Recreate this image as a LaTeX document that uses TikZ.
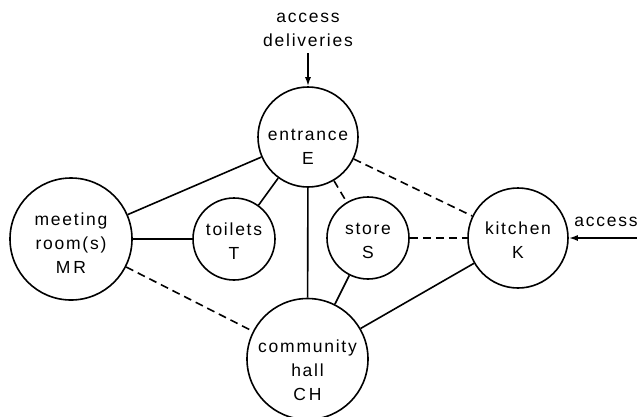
\documentclass[tikz,border=0pt]{standalone}
\usepackage{fontspec}
\setmainfont[LetterSpace=10]{Liberation Sans}
\usetikzlibrary{arrows.meta}
\begin{document}
\begin{tikzpicture}[x=1pt,y=-1pt,
  room/.style={circle,draw,line width=1.6pt,inner sep=0pt},
  lbl/.style={inner sep=0pt,align=center,font=\fontsize{17.5}{24}\selectfont},
  link/.style={line width=1.6pt},
  weak/.style={line width=1.6pt,dash pattern=on 8pt off 5pt},
  arr/.style={line width=1.7pt,-{Latex[length=9pt,width=6pt]}}]
\useasboundingbox (0,0) rectangle (637,416);
\node[room,minimum size=100pt] (E) at (308,137) {};
\node[room,minimum size=122pt] (MR) at (71,239) {};
\node[room,minimum size=82pt] (T) at (234,239) {};
\node[room,minimum size=82pt] (S) at (368,238) {};
\node[room,minimum size=100pt] (K) at (518,238) {};
\node[room,minimum size=121pt] (CH) at (307.5,359) {};
\node[lbl] (Et) at (308,147) {entrance\\E};
\node[lbl] (MRt) at (71,243) {meeting\\room(s)\\M\,R};
\node[lbl] (Tt) at (234,241) {toilets\\T};
\node[lbl] (St) at (368,240.5) {store\\S};
\node[lbl] (Kt) at (518,240.5) {kitchen\\K};
\node[lbl] (CHt) at (307.5,370) {community\\hall\\C\,H};
\node[lbl] (top) at (308,30) {access\\deliveries};
\node[lbl] (acc) at (606,222) {access};
\coordinate (topin) at (308,53);
\coordinate (rin) at (637,238);
\draw[arr] (topin) -- (E);
\draw[arr] (rin) -- (K);
\draw[link] (MR) -- (E);
\draw[link] (MR) -- (T);
\draw[link] (T) -- (E);
\draw[link] (E) -- (CH);
\draw[link] (S) -- (CH);
\draw[link] (K) -- (CH);
\draw[weak] (E) -- (S);
\draw[weak] (E) -- (K);
\draw[weak] (S) -- (K);
\draw[weak] (MR) -- (CH);
\end{tikzpicture}
\end{document}
